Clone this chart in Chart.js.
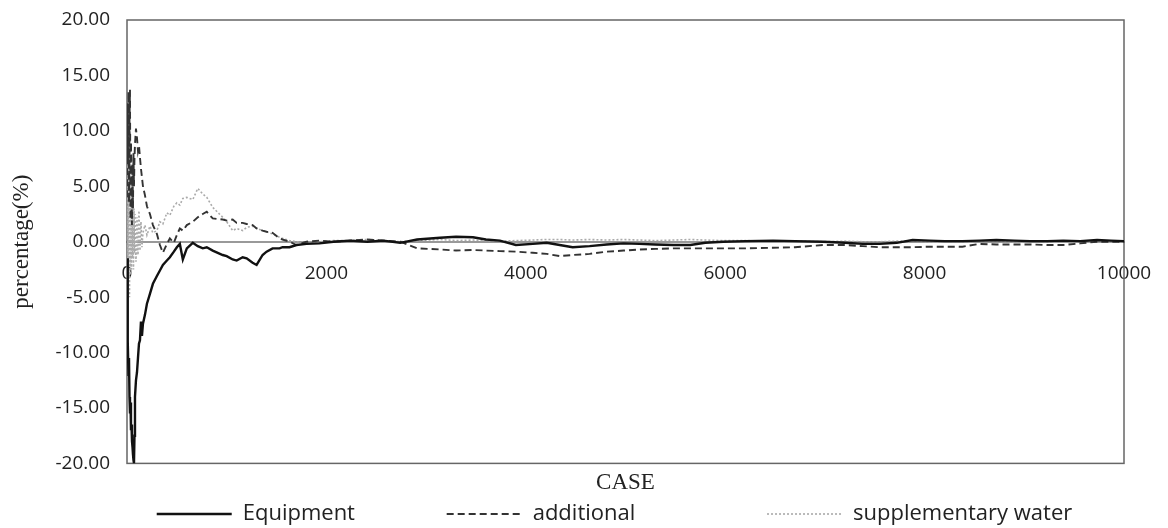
<!DOCTYPE html>
<html>
<head>
<meta charset="utf-8">
<script src="https://cdn.jsdelivr.net/npm/chart.js@4/dist/chart.umd.min.js"></script>
<style>
  html, body { margin: 0; padding: 0; background: #fff; }
  #wrap { width: 1168px; height: 528px; }
</style>
</head>
<body>
<div id="wrap"><canvas id="chart"></canvas></div>
<script>
// case numbers (x) shared by all three series
const caseNo = [
  0, 5, 10, 15, 20, 25, 30, 35, 40, 45,
  50, 55, 60, 65, 70, 75, 80, 90, 100, 110,
  120, 130, 140, 150, 160, 180, 200, 230, 260, 300,
  330, 360, 400, 430, 470, 500, 530, 560, 600, 660,
  710, 760, 800, 860, 960, 1000, 1060, 1100, 1160, 1200,
  1260, 1300, 1360, 1400, 1460, 1530, 1560, 1630, 1700, 1800,
  1930, 2070, 2240, 2410, 2570, 2740, 2910, 3140, 3300, 3470,
  3600, 3740, 3900, 4070, 4210, 4340, 4470, 4640, 4810, 4980,
  5140, 5300, 5480, 5650, 5800, 5980, 6200, 6480, 6700, 6980,
  7200, 7380, 7550, 7720, 7880, 8050, 8200, 8380, 8550, 8720,
  8900, 9060, 9230, 9390, 9560, 9730, 9870, 10000
]

const equipment = [
  -1.5, -6, -9, -12, -10.5, -14, -15.5, -14.5, -17, -16.5,
  -18, -18.5, -19.2, -19.7, -20, -17.5, -14, -12.5, -11.8, -10.5,
  -9.2, -8.9, -7.2, -8.5, -7.4, -6.6, -5.6, -4.7, -3.8, -3.1,
  -2.6, -2.1, -1.7, -1.4, -0.9, -0.5, -0.2, -1.6, -0.6, -0.1,
  -0.4, -0.6, -0.5, -0.8, -1.2, -1.3, -1.6, -1.7, -1.4, -1.5,
  -1.9, -2.1, -1.2, -0.9, -0.6, -0.6, -0.5, -0.5, -0.3, -0.2,
  -0.15, 0.0, 0.1, 0.0, 0.1, -0.1, 0.2, 0.35, 0.45, 0.4,
  0.2, 0.1, -0.3, -0.2, -0.1, -0.3, -0.5, -0.4, -0.25, -0.15,
  -0.2, -0.25, -0.3, -0.3, -0.1, 0.0, 0.05, 0.1, 0.05, 0.0,
  -0.1, -0.2, -0.2, -0.1, 0.15, 0.1, 0.05, 0.05, 0.1, 0.15,
  0.1, 0.05, 0.05, 0.1, 0.05, 0.15, 0.1, 0.05
]

const additional = [
  4, 12.5, 7, 13.5, 3.5, 11, 13.7, 2, 9, 5.5,
  1.5, 7, 3, 8, 5, 7.5, 8.8, 10.2, 9.4, 8.2,
  8.7, 7.6, 6.6, 5.8, 5.0, 4.2, 3.2, 2.5, 1.5, 0.7,
  -0.3, -1.0, -0.2, 0.3, -0.1, 0.6, 1.2, 1.0, 1.5, 1.8,
  2.2, 2.5, 2.7, 2.1, 2.0, 1.9, 2.0, 1.7, 1.7, 1.6,
  1.5, 1.2, 1.0, 0.9, 0.8, 0.3, 0.2, 0.0, -0.3, 0.0,
  0.1, 0.0, 0.1, 0.2, 0.1, 0.0, -0.6, -0.7, -0.8, -0.75,
  -0.8, -0.85, -0.9, -1.0, -1.1, -1.3, -1.2, -1.1, -0.9, -0.8,
  -0.7, -0.65, -0.6, -0.6, -0.6, -0.6, -0.6, -0.55, -0.5, -0.3,
  -0.3, -0.4, -0.5, -0.5, -0.5, -0.45, -0.45, -0.45, -0.2, -0.25,
  -0.25, -0.25, -0.3, -0.3, -0.15, 0.0, 0.0, 0.0
]

const supplementary = [
  3, -4, 12, -2, 8, -5, 10, -3, 6.5, -2.5,
  5, -1.5, 4, -2.5, 3, -1, 2.5, -1.8, 2.2, -1.2,
  2.8, -0.8, 1.8, -0.5, 0.8, 1.5, 0.6, 1.4, 0.8, 1.0,
  1.8, 1.6, 2.6, 2.4, 3.2, 3.5, 3.3, 3.9, 4.0, 3.8,
  4.8, 4.3, 4.0, 3.1, 2.2, 1.8, 1.0, 1.2, 1.0, 1.3,
  1.4, 1.2, 1.0, 0.9, 0.7, 0.4, 0.3, 0.1, 0.0, -0.1,
  0.0, 0.1, 0.1, 0.2, 0.1, 0.0, 0.1, 0.2, 0.1, 0.15,
  0.1, 0.05, 0.1, 0.15, 0.2, 0.2, 0.15, 0.2, 0.15, 0.2,
  0.15, 0.1, 0.15, 0.2, 0.15, 0.1, 0.1, 0.05, 0.05, 0.0,
  0.05, 0.0, 0.0, 0.05, 0.05, 0.0, 0.05, 0.0, 0.05, 0.05,
  0.0, 0.05, 0.0, 0.05, 0.0, 0.05, 0.0, 0.0
]

const seriesNames = ['Equipment', 'additional', 'supplementary water']
// trailing no-break spaces that open up the gaps between legend entries
const legendGap = [15, 22, 8]

const toPoints = (vals) => vals.map((v, i) => ({ x: caseNo[i], y: v }))

// box round the plot area
const frame = {
  id: 'frame',
  beforeDatasetsDraw(chart) {
    const { ctx, chartArea: a } = chart
    ctx.save()
    ctx.strokeStyle = '#666'
    ctx.lineWidth = 1.5
    ctx.strokeRect(a.left, a.top, a.right - a.left, a.bottom - a.top)
    ctx.restore()
  },
}

const sans = 'Open Sans'
const serif = 'Liberation Serif'

new Chart(document.getElementById('chart'), {
  type: 'line',
  data: {
    datasets: [
      {
        label: seriesNames[0],
        data: toPoints(equipment),
        borderColor: '#111',
        borderWidth: 2.4,
        order: 1,
      },
      {
        label: seriesNames[1],
        data: toPoints(additional),
        borderColor: '#333',
        borderWidth: 1.9,
        borderDash: [7, 4],
        order: 2,
      },
      {
        label: seriesNames[2],
        data: toPoints(supplementary),
        borderColor: '#aaa',
        borderWidth: 1.6,
        borderDash: [2, 2],
        order: 3,
      },
    ],
  },
  options: {
    responsive: true,
    maintainAspectRatio: false,
    animation: false,
    elements: { point: { radius: 0 }, line: { tension: 0 } },
    layout: { padding: { top: 0, right: 44, left: 0, bottom: 0 } },
    scales: {
      x: {
        type: 'linear',
        min: 0,
        max: 10000,
        position: { y: 0 },
        grid: { display: false, drawTicks: false },
        border: { display: true, color: '#999', width: 2 },
        ticks: {
          stepSize: 2000,
          padding: 20,
          maxRotation: 0,
          color: '#222',
          font: { family: sans, size: 19 },
          callback: (v) => String(v),
        },
        afterFit: (s) => {
          s.paddingLeft = 0
          s.paddingRight = 0
        },
      },
      x2: {
        type: 'linear',
        min: 0,
        max: 10000,
        position: 'bottom',
        grid: { display: false, drawTicks: false },
        border: { display: false },
        ticks: { display: false },
        title: {
          display: true,
          text: 'CASE',
          color: '#222',
          font: { family: serif, size: 23 },
          padding: { top: 6, bottom: 0 },
        },
      },
      y: {
        min: -20,
        max: 20,
        grid: { display: false, drawTicks: false },
        border: { display: false },
        ticks: {
          stepSize: 5,
          padding: 17,
          color: '#222',
          font: { family: sans, size: 19 },
          callback: (v) => v.toFixed(2),
        },
        title: {
          display: true,
          text: 'percentage(%)',
          color: '#222',
          font: { family: serif, size: 23 },
          padding: { top: 8, bottom: 0 },
        },
        afterFit: (s) => {
          s.width = 127
          s.paddingTop = 20
          s.paddingBottom = 0
        },
      },
    },
    plugins: {
      legend: {
        position: 'bottom',
        align: 'end',
        maxHeight: 31,
        labels: {
          usePointStyle: true,
          pointStyle: 'line',
          pointStyleWidth: 75,
          padding: 6,
          color: '#222',
          font: { family: sans, size: 22 },
          generateLabels: (chart) => {
            const items = Chart.defaults.plugins.legend.labels.generateLabels(chart)
            return items.map((item, i) => {
              const ds = chart.data.datasets[item.datasetIndex]
              return {
                ...item,
                text: item.text + '\u00a0'.repeat(legendGap[i]),
                lineDash: ds.borderDash || [],
                lineWidth: ds.borderWidth,
                strokeStyle: ds.borderColor,
              }
            })
          },
        },
      },
      tooltip: { enabled: false },
    },
  },
  plugins: [frame],
})
</script>
</body>
</html>
